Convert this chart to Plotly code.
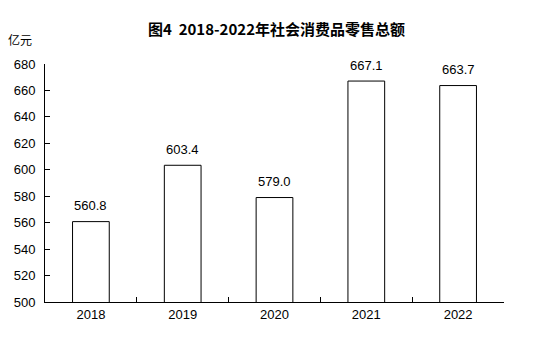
import plotly.graph_objects as go

years = ["2018", "2019", "2020", "2021", "2022"]
retail_sales = [560.8, 603.4, 579.0, 667.1, 663.7]
y_ticks = list(range(500, 681, 20))

title_text = "图4  2018-2022年社会消费品零售总额"
unit_text = "亿元"

fig = go.Figure(
    go.Bar(
        x=years,
        y=retail_sales,
        width=0.4,
        marker=dict(color="white", line=dict(color="black", width=1)),
    )
)

# value labels floating above each bar (category axis positions are indices)
for i, v in enumerate(retail_sales):
    fig.add_annotation(
        x=i, y=v, text=f"{v:.1f}",
        xref="x", yref="y",
        showarrow=False, yanchor="middle", yshift=16,
        font=dict(family="Liberation Sans, Arial", size=13, color="black"),
    )

fig.update_layout(
    width=544,
    height=338,
    margin=dict(l=45, r=40, t=64, b=36),
    paper_bgcolor="white",
    plot_bgcolor="white",
    showlegend=False,
    font=dict(family="Liberation Sans, Arial", size=13, color="black"),
)

fig.update_xaxes(
    type="category",
    categoryorder="array",
    categoryarray=years,
    range=[-0.5, len(years) - 0.5],
    showline=True,
    linecolor="black",
    linewidth=1,
    ticks="inside",
    tickson="boundaries",
    ticklen=5,
    tickcolor="black",
    showgrid=False,
    tickfont=dict(size=13),
)

fig.update_yaxes(
    range=[500, 680],
    tickvals=y_ticks,
    showline=True,
    linecolor="black",
    linewidth=1,
    ticks="inside",
    ticklen=5,
    tickcolor="black",
    showgrid=False,
    zeroline=False,
    ticklabelstandoff=6,
    tickfont=dict(size=13),
)

fig.add_annotation(
    text=title_text,
    xref="paper", yref="paper",
    x=(276 - 45) / 459, y=1 + (64 - 28) / 238,
    xanchor="center", yanchor="middle",
    showarrow=False,
    font=dict(family="Noto Sans CJK SC", size=15, color="black", weight="bold"),
)

fig.add_annotation(
    text=unit_text,
    xref="paper", yref="paper",
    x=(20 - 45) / 459, y=1 + (64 - 40) / 238,
    xanchor="center", yanchor="middle",
    showarrow=False,
    font=dict(family="Noto Sans CJK SC", size=12, color="black"),
)

fig.write_html("out.html")
